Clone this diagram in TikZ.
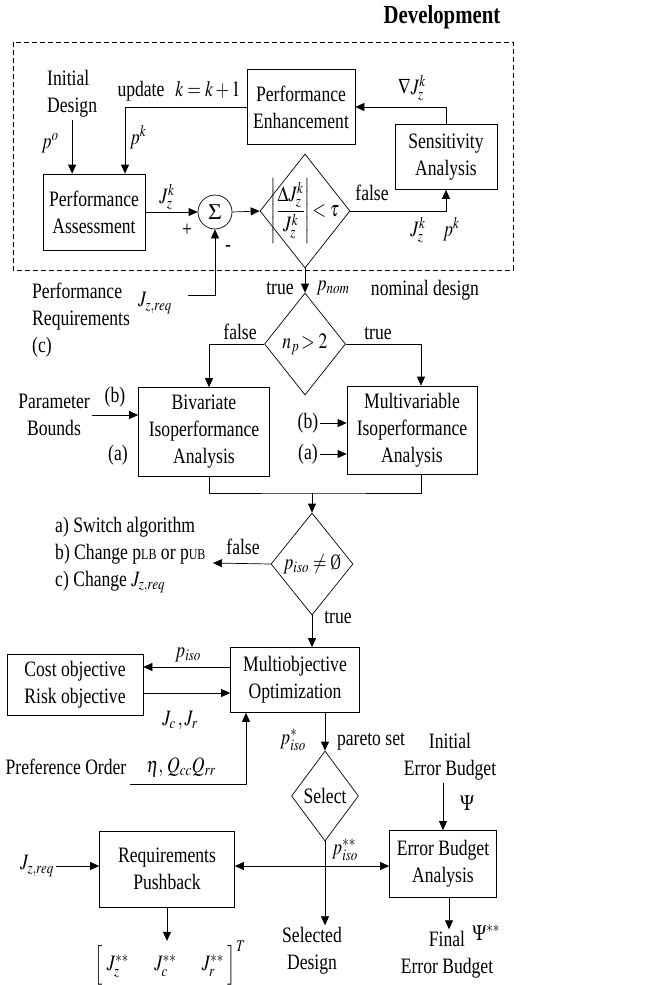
\documentclass[tikz,border=0pt]{standalone}
\usepackage{amsmath}
\usepackage{mathptmx}
\usepackage{fontspec}
\setmainfont{Liberation Serif}[FakeStretch=0.8]
\usepackage{tikz}
\usetikzlibrary{arrows.meta,shapes.geometric,positioning}
\newcommand{\mth}[1]{\scalebox{0.8}[1]{$#1$}}

\begin{document}
\begin{tikzpicture}[x=1pt, y=-1pt, >={Triangle[length=9pt,width=8pt]},
  every node/.style={font=\fontsize{22}{27}\selectfont},
  block/.style={draw, line width=0.7pt, align=center, inner sep=0pt},
  decision/.style={draw, diamond, line width=0.7pt, inner sep=0pt},
  txt/.style={align=center, inner sep=2pt},
  flow/.style={->, line width=0.7pt}]
\useasboundingbox (0,0) rectangle (667,985);

% development loop
\node[font=\fontsize{26}{30}\selectfont\bfseries] (dev) at (442,17) {Development};
\draw[dash pattern=on 5pt off 3pt, line width=0.8pt] (13,42) rectangle (513,270);

\node[txt, align=left, anchor=west] (init) at (45,94) {Initial\\Design};
\node[block, minimum width=102pt, minimum height=76pt] (pa) at (94,212) {Performance\\Assessment};
\node[block, minimum width=108pt, minimum height=75pt] (pe) at (301,107) {Performance\\Enhancement};
\node[block, minimum width=102pt, minimum height=65pt] (sa) at (446,157) {Sensitivity\\Analysis};
\node[draw, circle, line width=0.7pt, minimum size=34pt, inner sep=0pt] (sum) at (215,212) {$\Sigma$};
\node[decision, minimum width=90pt, minimum height=114pt,
      label=center:{\mth{\left|\dfrac{\Delta J_z^k}{J_z^k}\right|\!<\tau}}] (chk) at (305,211) {};

\coordinate (upd) at (125,106);
\draw[flow] (init.south) -- (init.south |- pa.north);
\draw[flow] (pe.west) -| (upd |- pa.north);
\draw[flow] (sa.north) |- (pe.east);
\draw[flow] (pa.east) -- (sum.west);
\draw[flow] (sum.east) -- (chk.west);
\draw[flow] (chk.east) -| (sa.south);

\node[txt] (po) at (50,143) {\mth{p^o}};
\node[txt] (upk) at (179,91) {update\enspace\mth{k=k+1}};
\node[txt] (pk) at (138,137) {\mth{p^k}};
\node[txt] (grad) at (412,88) {\mth{\nabla J_z^k}};
\node[txt] (jzk) at (167,197) {\mth{J_z^k}};
\node[txt] (plus) at (187,230) {+};
\node[txt] (minus) at (228,248) {-};
\node[txt] (fls1) at (372,193) {false};
\node[txt] (jpk) at (435,230) {\mth{J_z^k\quad p^k}};

% requirements
\node[txt, align=left, anchor=west] (preq) at (30,320) {Performance\\Requirements\\(c)};
\node[txt] (jreq1) at (155,303) {\mth{J_{z,req}}};
\coordinate (req) at (188,295);
\draw[flow] (req) -| (sum.south);

% nominal design
\node[txt] (tru1) at (280,288) {true};
\node[txt] (pnom) at (333,288) {\mth{p_{nom}}};
\node[txt] (nomd) at (425,290) {nominal design};

\node[decision, minimum width=81pt, minimum height=102pt,
      label=center:{\mth{n_p\!>2}}] (np) at (305,344) {};
\draw[flow] (chk.south) -- (np.north);

\node[block, minimum width=131pt, minimum height=89pt] (bi) at (204,432) {Bivariate\\Isoperformance\\Analysis};
\node[block, minimum width=130pt, minimum height=88pt] (mv) at (412,430) {Multivariable\\Isoperformance\\Analysis};
\draw[flow] (np.west) -| ([xshift=5pt]bi.north);
\draw[flow] (np.east) -| ([xshift=9pt]mv.north);
\node[txt] (fls2) at (240,332) {false};
\node[txt] (tru2) at (378,333) {true};

\node[txt] (bounds) at (54,415) {Parameter\\Bounds};
\node[txt] (bib) at (115,397) {(b)};
\node[txt] (bia) at (118,455) {(a)};
\draw[flow] (bounds.east) -- (bounds.east -| bi.west);
\node[txt] (mvb) at (308,423) {(b)};
\node[txt] (mva) at (308,454) {(a)};
\draw[flow] (mvb.east) -- (mvb.east -| mv.west);
\draw[flow] (mva.east) -- (mva.east -| mv.west);

% isoperformance check
\coordinate (jn) at (312,493);
\node[decision, minimum width=82pt, minimum height=102pt,
      label=center:{\mth{p_{iso}\neq\text{\O}}}] (iso) at (312,564) {};
\draw[line width=0.7pt] ([xshift=5pt]bi.south) |- (jn) -| ([xshift=9pt]mv.south);
\draw[flow] (jn) -- (iso.north);

\node[txt, align=left, anchor=west] (fixes) at (53,555)
  {a) Switch algorithm\\b) Change p{\fontsize{15}{15}\selectfont LB} or p{\fontsize{15}{15}\selectfont UB}\\c) Change \mth{J_{z,req}}};
\coordinate (fx) at (213,563);
\draw[flow] (iso.west) -- (fx);
\node[txt] (fls3) at (243,547) {false};
\node[txt] (tru3) at (338,617) {true};

% optimization
\node[block, minimum width=129pt, minimum height=65pt] (mo) at (295,680) {Multiobjective\\Optimization};
\node[block, minimum width=136pt, minimum height=61pt] (cost) at (75,685) {Cost objective\\Risk objective};
\draw[flow] (iso.south) -- (iso.south |- mo.north);
\draw[flow] ([yshift=13pt]mo.west) -- ([yshift=13pt]mo.west -| cost.east);
\draw[flow] ([yshift=-13pt]mo.west -| cost.east) -- ([yshift=-13pt]mo.west);
\node[txt] (piso) at (188,655) {\mth{p_{iso}}};
\node[txt] (jcr) at (180,720) {\mth{J_c\,,J_r}};

\node[txt] (pref) at (66,767) {Preference Order};
\node[txt] (prefv) at (181,767) {\mth{\eta,\,Q_{cc}Q_{rr}}};
\coordinate (pl) at (130,784);
\coordinate (pu) at (246,784);
\draw[flow] (pl) -- (pu) -- (pu |- mo.south);

% selection and error budget
\node[decision, minimum width=67pt, minimum height=90pt,
      label=center:{Select}] (sel) at (325,796) {};
\draw[flow] (mo.south -| sel.north) -- (sel.north);
\node[txt] (pstar) at (293,740) {\mth{p^*_{iso}}};
\node[txt] (pareto) at (371,742) {pareto set};

\node[txt] (ieb) at (450,757) {Initial\\Error Budget};
\node[block, minimum width=107pt, minimum height=67pt] (eba) at (443,864) {Error Budget\\Analysis};
\draw[flow] (ieb.south -| eba.north) -- (eba.north);
\node[txt] (psi) at (467,803) {\mth{\Psi}};

\node[txt] (seld) at (312,951) {Selected\\Design};
\draw[flow] (sel.south) -- (sel.south |- seld.north);
\coordinate (br) at (325,866);
\draw[flow] (br) -- (br -| eba.west);
\node[block, minimum width=135pt, minimum height=76pt] (rp) at (167,869) {Requirements\\Pushback};
\draw[flow] (br) -- (br -| rp.east);
\node[txt] (pss) at (345,850) {\mth{p^{**}_{iso}}};

\node[txt] (jreq2) at (37,866) {\mth{J_{z,req}}};
\draw[flow] (jreq2.east) -- (jreq2.east -| rp.west);
\node[inner sep=0pt] (mat) at (170,963) {\mth{\Bigl[\;J_z^{**}\quad\;\; J_c^{**}\quad\;\; J_r^{**}\;\Bigr]^T}};
\draw[flow] (rp.south) -- (rp.south |- mat.north);

\node[txt] (fin) at (447,955) {Final\\Error Budget};
\node[txt] (psis) at (486,933) {\mth{\Psi^{**}}};
\draw[flow] ([xshift=6pt]eba.south) -- ([xshift=6pt]eba.south |- fin.north);

\end{tikzpicture}
\end{document}
